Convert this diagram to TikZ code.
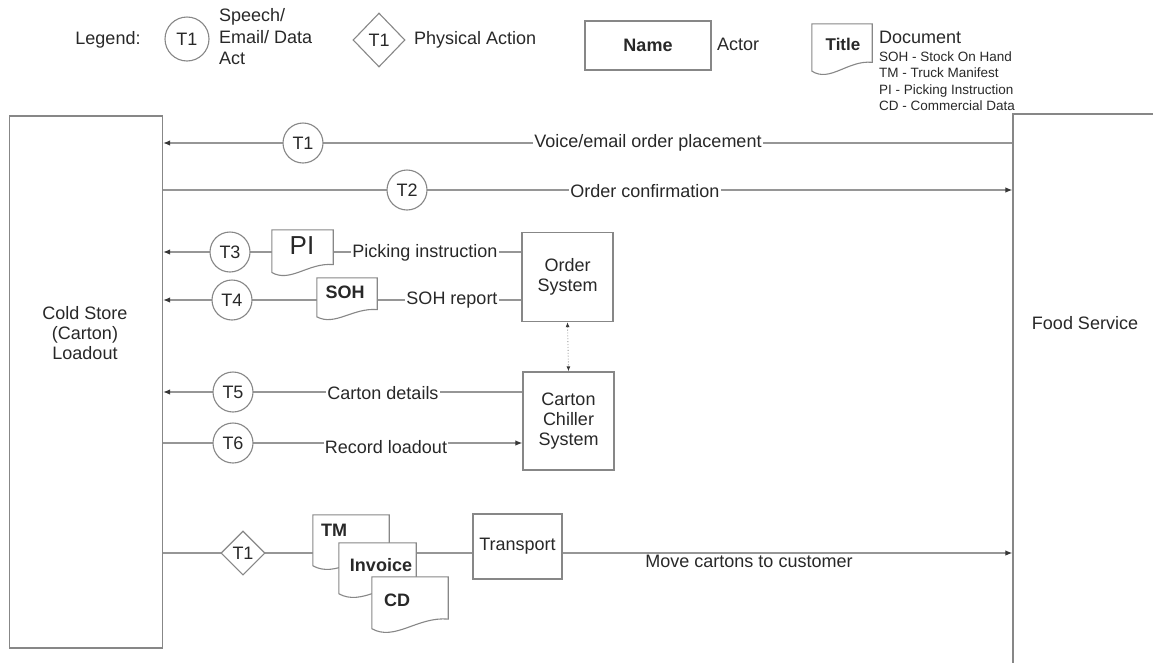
\documentclass[tikz,border=0pt]{standalone}
\usepackage{fontspec}
\setmainfont{Liberation Sans}
\usetikzlibrary{arrows.meta,shapes.geometric,calc,backgrounds}

\definecolor{linegray}{RGB}{150,150,150}
\definecolor{boxgray}{RGB}{135,135,135}
\definecolor{inkgray}{RGB}{40,40,40}
\definecolor{tipgray}{RGB}{55,55,55}

\tikzset{
  txt/.style={text=inkgray, font=\fontsize{18}{20}\selectfont, inner sep=1pt},
  lbl/.style={txt, fill=white},
  actor/.style={txt, draw=boxgray, line width=1.3pt, fill=white, align=center},
  act/.style={txt, circle, draw=boxgray, line width=1.1pt, fill=white, minimum size=40pt, inner sep=0pt},
  phys/.style={txt, diamond, draw=boxgray, line width=1.1pt, fill=white, inner sep=0pt},
  docbox/.style={inner sep=0pt},
  doclbl/.style={txt, font=\fontsize{18}{20}\selectfont\bfseries},
  flow/.style={draw=linegray, line width=1.2pt},
  arr/.style={flow, -{Latex[length=7pt,width=5.5pt,color=tipgray]}},
}

\newcommand{\docwave}[1]{%
  \filldraw[draw=boxgray, line width=1.1pt, fill=white]
    let \p1=(#1.north west), \p2=(#1.south east),
        \n1={\x2-\x1}, \n2={\y1-\y2} in
    (\p1) -- (\x2,\y1) -- (\x2,{\y2+0.25*\n2})
    .. controls ({\x1+0.6*\n1},{\y2+0.3*\n2}) and ({\x1+0.3*\n1},{\y2-0.15*\n2}) ..
    (\x1,{\y2+0.08*\n2}) -- cycle;}

\begin{document}
\begin{tikzpicture}[x=1pt, y=-1pt]
  \useasboundingbox (0,0) rectangle (1153,662);
  \clip (0,0) rectangle (1153,662);

  % legend
  \node[txt] (llegend) at (108,40) {Legend:};
  \node[act, minimum size=44pt] (lt1) at (187,39) {T1};
  \node[txt, anchor=west, align=left, font=\fontsize{18}{21.5}\selectfont] (lspeech) at (218,37) {Speech/\\Email/ Data\\Act};
  \node[phys, minimum width=52pt, minimum height=54pt] (ldia) at (379,40) {T1};
  \node[txt, anchor=west] (lphys) at (413,40) {Physical Action};
  \node[actor, minimum width=126pt, minimum height=49pt, font=\fontsize{18}{20}\selectfont\bfseries] (lname) at (648,45.5) {Name};
  \node[txt, anchor=west] (lactor) at (716,44) {Actor};
  \node[docbox, minimum width=60pt, minimum height=51pt] (ltitle) at (842,49.5) {};
  \docwave{ltitle}
  \node[doclbl, font=\fontsize{17}{20}\selectfont\bfseries] (ltitletxt) at (843,44) {Title};
  \node[txt, anchor=west] (ldoc) at (878,37) {Document};
  \node[txt, anchor=west, align=left, font=\fontsize{13.5}{16.5}\selectfont] (labbr) at (878,81) {SOH - Stock On Hand\\TM - Truck Manifest\\PI - Picking Instruction\\CD - Commercial Data};

  % actors
  \node[actor, minimum width=153pt, minimum height=532pt] (cold) at (86,382) {};
  \node[txt, align=center] (coldtxt) at (85,333) {Cold Store\\(Carton)\\Loadout};
  \node[actor, minimum width=150pt, minimum height=558pt] (food) at (1088,393) {};
  \node[txt] (foodtxt) at (1085,323) {Food Service};
  \node[actor, minimum width=91pt, minimum height=89pt] (order) at (567.5,277) {Order\\System};
  \node[actor, minimum width=91pt, minimum height=98pt] (chiller) at (568.5,421) {Carton\\Chiller\\System};
  \node[actor, minimum width=89pt, minimum height=65pt] (transport) at (517.5,546.5) {Transport};

  % acts
  \node[act] (t1) at (303,143) {T1};
  \node[act] (t2) at (407,190) {T2};
  \node[act] (t3) at (230,252) {T3};
  \node[act] (t4) at (232,300) {T4};
  \node[act] (t5) at (233,392) {T5};
  \node[act] (t6) at (233,443) {T6};
  \node[phys, minimum size=44pt] (t7) at (243,553) {T1};

  % documents
  \node[docbox, minimum width=61pt, minimum height=46pt] (pi) at (302.5,253) {};
  \docwave{pi}
  \node[txt, font=\fontsize{26}{28}\selectfont] (pitxt) at (302,246) {PI};
  \node[docbox, minimum width=60pt, minimum height=42pt] (soh) at (347,299) {};
  \docwave{soh}
  \node[doclbl] (sohtxt) at (345,292) {SOH};
  \node[docbox, minimum width=76pt, minimum height=55pt] (tm) at (351,542.5) {};
  \docwave{tm}
  \node[doclbl] (tmtxt) at (334,530) {TM};
  \node[docbox, minimum width=77pt, minimum height=55pt] (inv) at (377.5,570.5) {};
  \docwave{inv}
  \node[doclbl] (invtxt) at (381,565) {Invoice};
  \node[docbox, minimum width=76pt, minimum height=56pt] (cd) at (410,605) {};
  \docwave{cd}
  \node[doclbl] (cdtxt) at (397,600) {CD};

  % labels
  \node[lbl] (lvoice) at (648,143) {Voice/email order placement};
  \node[lbl] (lconf) at (645,191) {Order confirmation};
  \node[lbl] (lpick) at (425,253) {Picking instruction};
  \node[lbl] (lsoh) at (452,300) {SOH report};
  \node[lbl] (lcarton) at (383,393) {Carton details};
  \node[lbl] (lrecord) at (386,447) {Record loadout};
  \node[lbl] (lmove) at (749,561) {Move cartons to customer};

  % connectors
  \begin{scope}[on background layer]
    \draw[arr] (food.west |- t1) -- (cold.east |- t1);
    \draw[arr] (cold.east |- t2) -- (food.west |- t2);
    \draw[arr] (order.west |- t3) -- (cold.east |- t3);
    \draw[arr] (order.west |- t4) -- (cold.east |- t4);
    \draw[arr] (chiller.west |- t5) -- (cold.east |- t5);
    \draw[arr] (cold.east |- t6) -- (chiller.west |- t6);
    \draw[arr] (cold.east |- t7) -- (food.west |- t7);
    \draw[linegray, line width=0.9pt, dotted, <->, >={Latex[length=5pt,width=4pt,color=tipgray]}] (order.south) -- (chiller.north);
  \end{scope}
\end{tikzpicture}
\end{document}
